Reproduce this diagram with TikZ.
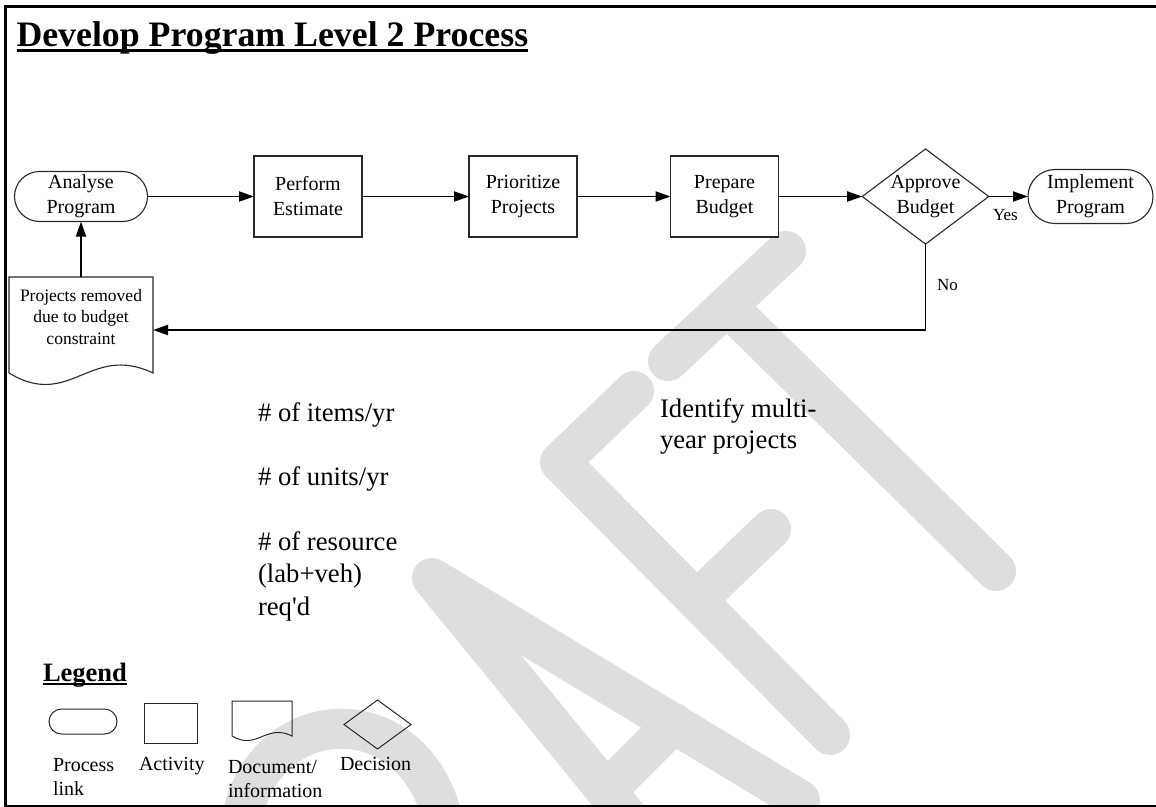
\documentclass[tikz,border=0pt]{standalone}
\usepackage{fontspec}
\setmainfont{Liberation Serif}
\usetikzlibrary{shapes.geometric,arrows.meta,calc}
\newcommand{\stackL}[1]{\begin{tabular}[t]{@{}l@{}}#1\end{tabular}}
\definecolor{wmgray}{RGB}{222,222,222}
\definecolor{boxline}{RGB}{40,40,40}
\begin{document}
\begin{tikzpicture}[x=1pt,y=-1pt,
  every node/.style={inner sep=0pt, outer sep=0pt},
  boxtxt/.style={font=\fontsize{20pt}{25pt}\selectfont, align=center},
  activity/.style={boxtxt, draw=boxline, line width=1.1pt, fill=white, rectangle, minimum width=108pt, minimum height=81pt},
  terminal/.style={boxtxt, draw=boxline, line width=1.1pt, fill=white, rectangle, rounded corners=25pt, minimum width=133pt, minimum height=50pt},
  decision/.style={boxtxt, draw=boxline, line width=1.1pt, fill=white, diamond, shape aspect=1.33, minimum width=125pt, minimum height=94pt},
  legshape/.style={draw=boxline, line width=1pt},
  legline/.style={draw=boxline, line width=1pt},
  conn/.style={line width=1.9pt, -{Triangle[length=15pt,width=10pt]}},
  lbl/.style={font=\fontsize{17pt}{20pt}\selectfont},
  bigtxt/.style={font=\fontsize{26.7pt}{32.5pt}\selectfont},
  legtxt/.style={font=\fontsize{20pt}{24pt}\selectfont},
  wm/.style={draw=wmgray, line width=40pt, line cap=round, line join=round}
]
\useasboundingbox (0,0) rectangle (1156,806);
% watermark
\begin{scope}
\clip (7,8) rectangle (1156,804);
\draw[wm] (668,361) -- (786,251);
\draw[wm] (727,306) -- (996,571);
\draw[wm] (634,391) -- (560,462) -- (830,735);
\draw[wm] (697,600) -- (771,529);
\draw[wm] (800,800) -- (432,578) -- (698,903);
\draw[wm] (674,723) -- (606,791);
\draw[wm] (240,830) .. controls (255,700) and (420,690) .. (445,830);
\end{scope}
% frame
\draw[line width=3pt] (5.5,806) -- (5.5,6.5) -- (1160,6.5);
\draw[line width=2pt] (4,805.5) -- (1160,805.5);
% title
\node[anchor=base west, font=\fontsize{35.8pt}{40pt}\selectfont\bfseries] (title) at (16.5,46) {Develop Program Level 2 Process};
\draw[line width=2.7pt] ([yshift=-4.5pt]title.base west) -- ([yshift=-4.5pt]title.base east);
% main flow
\node[terminal] (ap) at (81,196.5) {Analyse\\Program};
\node[activity] (pe) at (308,196.5) {Perform\\Estimate};
\node[activity] (pp) at (523,196.5) {Prioritize\\Projects};
\node[activity] (pb) at (724.5,196.5) {Prepare\\Budget};
\node[decision] (ab) at (925.5,196.5) {Approve\\Budget};
\node[terminal, minimum width=125pt, minimum height=54pt, rounded corners=27pt] (ip) at (1090.5,196.5) {Implement\\Program};
\node[font=\fontsize{17.5pt}{21.5pt}\selectfont, align=center, minimum width=144pt, minimum height=80pt] (doc) at (81,317) {Projects removed\\due to budget\\constraint};
\draw[boxline, line width=1.1pt] (doc.north west) -- (doc.north east) -- ($(doc.south east)+(0,16)$) .. controls +(-63,-30) and +(61,37) .. ($(doc.south west)+(0,16)$) -- cycle;
\draw[conn] (ap) -- (pe);
\draw[conn] (pe) -- (pp);
\draw[conn] (pp) -- (pb);
\draw[conn] (pb) -- (ab);
\draw[conn] (ab) -- (ip);
\node[lbl, anchor=base west] (yes) at (993,220) {Yes};
\coordinate (fb) at (925.5,330);
\draw[conn] (ab.south) -- (fb) -- (doc.east |- fb);
\node[lbl, anchor=base west] (no) at (937,290) {No};
\draw[conn] (doc) -- (ap);
% notes
\node[bigtxt, anchor=base west] (t1) at (258,421.7) {\# of items/yr};
\node[bigtxt, anchor=base west] (t2) at (258,485.7) {\# of units/yr};
\node[bigtxt, anchor=base west] (t3) at (258,550) {\stackL{\# of resource\\(lab+veh)\\req\textquotesingle d}};
\node[font=\fontsize{26.7pt}{31pt}\selectfont, anchor=base west] (t4) at (660,417) {\stackL{Identify multi-\\year projects}};
% legend
\node[anchor=base west, font=\fontsize{26.5pt}{30pt}\selectfont\bfseries] (leg) at (43,681) {Legend};
\draw[line width=2pt] ([yshift=-3.3pt]leg.base west) -- ([yshift=-3.3pt]leg.base east);
\node[legshape, rectangle, rounded corners=12.5pt, minimum width=68pt, minimum height=25pt] (lterm) at (83,721.5) {};
\node[legshape, rectangle, minimum width=53pt, minimum height=40pt] (lact) at (170.5,723) {};
\node[minimum width=60pt, minimum height=30pt] (ldoc) at (262,716) {};
\draw[legline] (ldoc.north west) -- (ldoc.north east) -- ($(ldoc.south east)+(0,5)$) .. controls +(-26,-13) and +(25,15) .. ($(ldoc.south west)+(0,5)$) -- cycle;
\node[legshape, diamond, minimum width=67pt, minimum height=49pt] (ldec) at (377.5,724.5) {};
\node[legtxt, anchor=base west] (l1) at (53,771.5) {\stackL{Process\\link}};
\node[legtxt, anchor=base west] (l2) at (139,770) {Activity};
\node[legtxt, anchor=base west] (l3) at (228,773.5) {\stackL{Document/\\information}};
\node[legtxt, anchor=base west] (l4) at (340,770) {Decision};
\end{tikzpicture}
\end{document}
